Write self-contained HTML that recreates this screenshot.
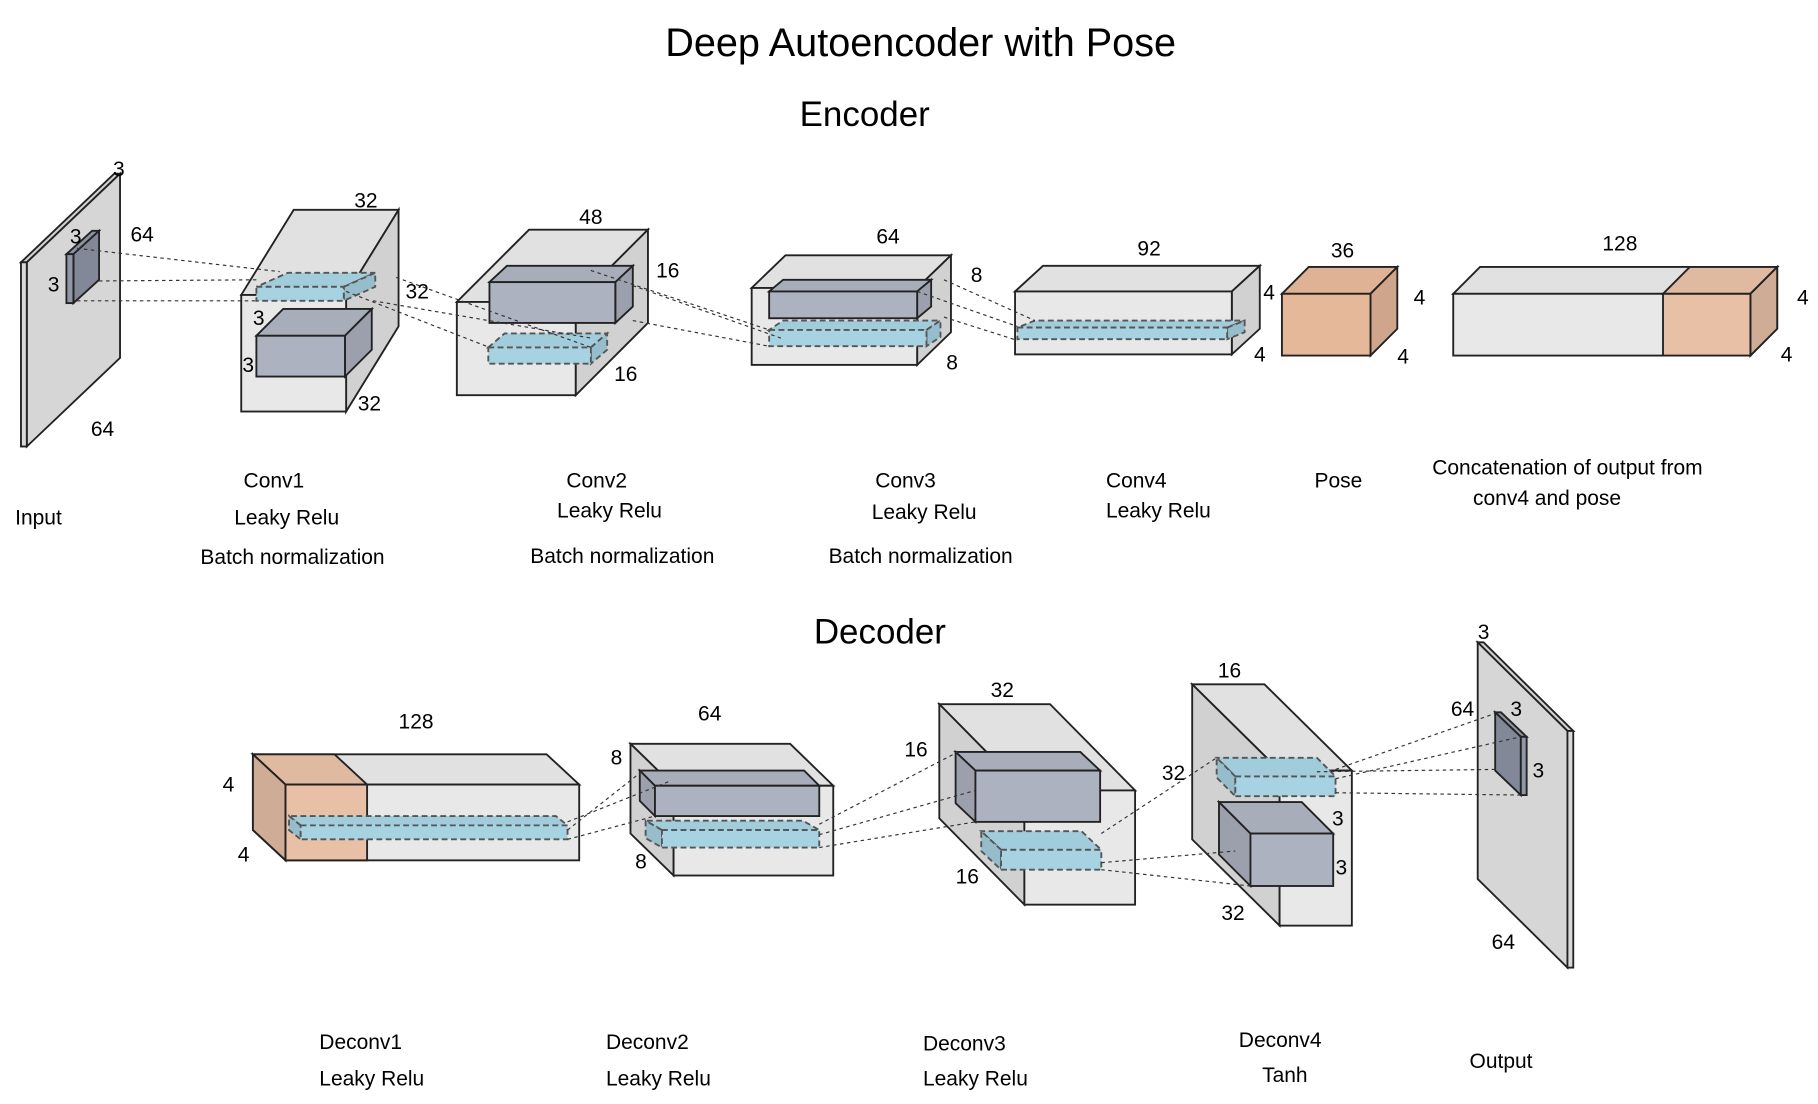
<!DOCTYPE html>
<html><head><meta charset="utf-8"><style>
html,body{margin:0;padding:0;background:#fff}
svg{display:block}
text{font-family:"Liberation Sans",sans-serif;fill:#000}
</style></head><body>
<svg id="s" width="1818" height="1104" viewBox="0 0 1560 947" preserveAspectRatio="none">
<g id="boxes"></g><g id="lines"></g><g id="labels"></g>
</svg>
<script>
const NS='http://www.w3.org/2000/svg';
const B=document.getElementById('boxes'),L=document.getElementById('lines'),T=document.getElementById('labels');
function el(tag,attrs,parent){const e=document.createElementNS(NS,tag);for(const k in attrs)e.setAttribute(k,attrs[k]);parent.appendChild(e);return e;}
function box(name,x,y,w,h,dx,dy,fill,opts){opts=opts||{};
 const g=el('g',{},B);
 
 
 const st={stroke:opts.stroke||'#222','stroke-width':opts.sw||1.6,'stroke-dasharray':opts.dash||'none','fill-opacity':opts.op||1};
 const top=[[x,y],[x+w,y],[x+w+dx,y+dy],[x+dx,y+dy]];
 const side=dx>0?[[x+w,y],[x+w+dx,y+dy],[x+w+dx,y+h+dy],[x+w,y+h]]:[[x,y],[x+dx,y+dy],[x+dx,y+h+dy],[x,y+h]];
 const pts=a=>a.map(p=>p.join(',')).join(' ');
 el('polygon',Object.assign({points:pts(top),fill:opts.topFill||shade(fill,0.97)},st),g);
 el('polygon',Object.assign({points:pts(side),fill:opts.sideFill||shade(fill,0.9)},st),g);
 el('rect',Object.assign({x:x,y:y,width:w,height:h,fill:opts.frontFill||fill},st),g);
 return g;}
function shade(c,f){const n=parseInt(c.slice(1),16);const r=Math.round(((n>>16)&255)*f),g=Math.round(((n>>8)&255)*f),b=Math.round((n&255)*f);return 'rgb('+r+','+g+','+b+')';}
function line(x1,y1,x2,y2){el('line',{x1,y1,x2,y2,stroke:'#333','stroke-width':1,'stroke-dasharray':'3,3'},L);}
function txt(name,x,y,s,size,anchor){const t=el('text',{x:x,y:y,'font-size':size||18,'text-anchor':anchor||'start'},T);t.textContent=s;
 
 }
const LG='#e8e8e8',GR='#adb2c0',BL='#a6d2e2',OR='#e6b89a';
const dashB={dash:'5,3',stroke:'#555'};
box('input-plane',18,225,5,158,80,-76,'#d9d9d9',{sideFill:'#d6d6d6'});
box('input-kernel',57,218,6,42,22,-20,'#9097a8');
box('conv1-volume',207,253,90,100,45,-73,LG);
box('conv1-kernel',220,288,76,35,23,-23,GR);
box('conv1-output-slab',220,246,75,12,27,-12,BL,dashB);
box('conv2-volume',392,259,102,80,62,-62,LG);
box('conv2-kernel',420,242,108,35,15,-14,GR);
box('conv2-output-slab',419,298,88,14,14,-12,BL,dashB);
box('conv3-volume',645,247,142,66,29,-28,LG);
box('conv3-kernel',660,250,127,23,12,-10,GR);
box('conv3-output-slab',660,283,135,14,12,-8,BL,dashB);
box('conv4-volume',871,250,186,54,24,-22,LG);
box('conv4-output-slab',873,281,180,10,15,-6,BL,dashB);
box('pose-volume',1100,252,76,53,23,-23,OR);
box('concat-volume',1247,252,255,53,23,-23,LG);
box('concat-pose-part',1427,252,75,53,23,-23,OR,{op:0.85});
box('deconv1-volume',245,673,252,65,-28,-26,LG);
box('deconv1-pose-part',245,673,70,65,-28,-26,OR,{op:0.85});
box('deconv1-slab',258,708,229,12,-10,-8,BL,dashB);
box('deconv2-volume',578,674,137,77,-37,-36,LG);
box('deconv2-kernel',562,674,141,26,-13,-13,GR);
box('deconv2-slab',568,712,135,15,-14,-8,BL,dashB);
box('deconv3-volume',879,678,95,98,-73,-74,LG);
box('deconv3-kernel',837,661,107,44,-17,-16,GR);
box('deconv3-slab',859,729,86,17,-17,-16,BL,dashB);
box('deconv4-volume',1098,661,62,133,-75,-74,LG);
box('deconv4-slab',1060,666,86,17,-16,-16,BL,dashB);
box('deconv4-kernel',1073,715,71,45,-27,-27,GR);
box('output-plane',1345,627,5,203,-77,-76,'#d9d9d9',{sideFill:'#d6d6d6'});
box('output-kernel',1305,632,5,50,-22,-21,'#9097a8');
[[66,213,240,233],[85,241,220,240],[66,258,220,258],[297,250,420,298],[320,258,507,290],[340,238,507,298],[507,232,660,283],[543,245,670,290],[543,275,660,297],[787,250,873,280],[810,240,888,275],[810,272,873,292],
 [487,712,553,660],[487,705,575,670],[487,720,562,700],[703,707,822,645],[703,716,837,678],[703,727,837,705],[945,715,1044,650],[945,740,1060,730],[945,746,1073,760],[1146,660,1283,612],[1146,668,1305,632],[1146,680,1305,682],[1130,662,1283,660]].forEach(a=>line(...a));
txt('chart-title',790,48,'Deep Autoencoder with Pose',34,'middle');
txt('encoder-heading',742,108,'Encoder',30,'middle');
txt('decoder-heading',755,552,'Decoder',30,'middle');
[['dim',97,151,'3'],['dim',60,209,'3'],['dim',112,207,'64'],['dim',41,250,'3'],['dim',78,374,'64'],
['dim',304,178,'32'],['dim',348,256,'32'],['dim',217,279,'3'],['dim',208,319,'3'],['dim',307,352,'32'],
['dim',497,192,'48'],['dim',563,238,'16'],['dim',527,327,'16'],
['dim',752,209,'64'],['dim',833,242,'8'],['dim',812,317,'8'],
['dim',976,219,'92'],['dim',1084,257,'4'],['dim',1076,310,'4'],
['dim',1142,221,'36'],['dim',1213,261,'4'],['dim',1199,312,'4'],
['dim',1375,215,'128'],['dim',1542,261,'4'],['dim',1528,310,'4'],
['dim',342,625,'128'],['dim',191,679,'4'],['dim',204,739,'4'],
['dim',599,618,'64'],['dim',524,656,'8'],['dim',545,745,'8'],
['dim',850,598,'32'],['dim',776,649,'16'],['dim',820,758,'16'],
['dim',1045,581,'16'],['dim',997,669,'32'],['dim',1143,708,'3'],['dim',1146,750,'3'],['dim',1048,789,'32'],
['dim',1268,548,'3'],['dim',1245,614,'64'],['dim',1296,614,'3'],['dim',1315,667,'3'],['dim',1280,814,'64']
].forEach(d=>txt('dimension-label',d[1],d[2],d[3],18));
[['input-label',13,450,'Input'],['conv1-label',209,418,'Conv1'],['conv1-activation',201,450,'Leaky Relu'],['conv1-batchnorm',172,484,'Batch normalization'],
['conv2-label',486,418,'Conv2'],['conv2-activation',478,444,'Leaky Relu'],['conv2-batchnorm',455,483,'Batch normalization'],
['conv3-label',751,418,'Conv3'],['conv3-activation',748,445,'Leaky Relu'],['conv3-batchnorm',711,483,'Batch normalization'],
['conv4-label',949,418,'Conv4'],['conv4-activation',949,444,'Leaky Relu'],['pose-label',1128,418,'Pose'],
['concat-label',1229,407,'Concatenation of output from'],['concat-label-2',1264,433,'conv4 and pose'],
['deconv1-label',274,900,'Deconv1'],['deconv1-activation',274,931,'Leaky Relu'],
['deconv2-label',520,900,'Deconv2'],['deconv2-activation',520,931,'Leaky Relu'],
['deconv3-label',792,901,'Deconv3'],['deconv3-activation',792,931,'Leaky Relu'],
['deconv4-label',1063,898,'Deconv4'],['deconv4-activation',1083,928,'Tanh'],['output-label',1261,916,'Output']
].forEach(d=>txt(d[0],d[1],d[2],d[3],18));
</script>
</body></html>
